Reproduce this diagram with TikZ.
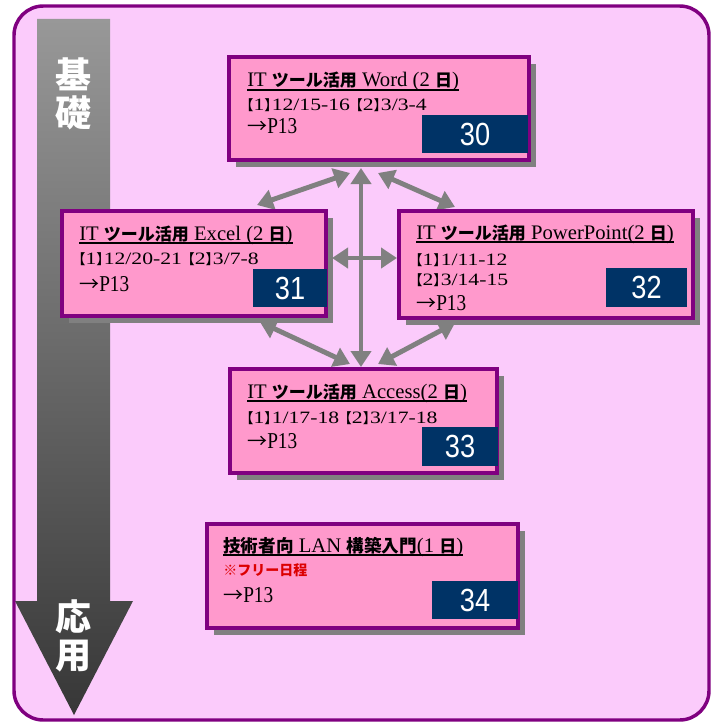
\documentclass[tikz,border=0pt]{standalone}
\usepackage{fontspec}
\setmainfont{Liberation Serif}
\newfontfamily\latn[FakeStretch=0.85]{Liberation Serif}
\newfontfamily\latw[FakeStretch=1.25]{Liberation Serif}
\newfontfamily\cjk{Noto Sans CJK JP}
\newfontfamily\numfont[FakeStretch=0.85]{Liberation Sans}
\usetikzlibrary{arrows.meta,shadows,fit,calc}
\newcommand{\J}[1]{{\cjk #1}}
\newcommand{\JB}[1]{{\cjk\bfseries\fontsize{12.75}{14}\selectfont #1}}
\newcommand{\BR}[1]{\makebox[5.5pt][r]{\cjk\fontsize{10.5}{12}\selectfont 【}#1\makebox[5.5pt][l]{\cjk\fontsize{10.5}{12}\selectfont 】}}
\newcommand{\PT}{{\cjk\fontsize{15}{17}\selectfont →}{\latn P13}}
\definecolor{outerfill}{RGB}{251,203,251}
\definecolor{boxfill}{RGB}{255,153,204}
\definecolor{purp}{RGB}{128,0,128}
\definecolor{navyc}{RGB}{0,51,102}
\definecolor{arrgray}{RGB}{128,128,128}
\definecolor{redc}{RGB}{220,0,0}
\definecolor{shtop}{RGB}{152,152,152}
\definecolor{shbot}{RGB}{55,55,55}
\begin{document}
\begin{tikzpicture}[x=0.75pt,y=-0.75pt,
  box/.style={draw=purp, line width=3.2pt, fill=boxfill, inner sep=0pt,
    drop shadow={shadow xshift=5pt, shadow yshift=-5pt, opacity=1, fill=arrgray}},
  numbox/.style={fill=navyc, inner sep=0pt},
  numtext/.style={text=white, inner sep=0pt, font=\numfont\fontsize{24}{24}\selectfont},
  tlabel/.style={anchor=base west, inner sep=0pt, font=\rmfamily\fontsize{15.5}{16}\selectfont},
  dlabel/.style={anchor=base west, inner sep=0pt, font=\latw\fontsize{13}{14}\selectfont},
  plabel/.style={anchor=base west, inner sep=0pt, font=\fontsize{17}{18}\selectfont},
  uline/.style={line width=0.9pt, black},
  conn/.style={draw=arrgray, line width=3.7pt, {Triangle[length=12pt,width=15pt]}-{Triangle[length=12pt,width=15pt]}},
  bigtext/.style={text=white, align=center, inner sep=0pt, font=\cjk\bfseries\fontsize{27}{28}\selectfont}
]
\useasboundingbox (0,0) rectangle (719,724);
% outer frame
\draw[purp, line width=2.6pt, fill=outerfill, rounded corners=22pt] (14,6) rectangle (709,720);
% big arrow
\shade[top color=shtop, bottom color=shbot] (37,19) -- (110,19) -- (110,601) -- (133,601) -- (74,715) -- (15,601) -- (37,601) -- cycle;
\node[bigtext] (kiso) at (73,94) {基\\礎};
\node[bigtext] (oyo) at (73,636) {応\\用};

% connector end points
\coordinate (wex) at (350,173); \coordinate (exw) at (257,205);
\coordinate (wpp) at (378,173); \coordinate (ppw) at (455,207);
\coordinate (wac) at (361,168); \coordinate (acw) at (361,367);
\coordinate (expp) at (332,258); \coordinate (ppex) at (397,258);
\coordinate (exac) at (260,322); \coordinate (acex) at (350,364);
\coordinate (ppac) at (455,323); \coordinate (acpp) at (378,364);
\draw[conn] (wex) -- (exw);
\draw[conn] (wpp) -- (ppw);
\draw[conn] (wac) -- (acw);
\draw[conn] (expp) -- (ppex);
\draw[conn] (exac) -- (acex);
\draw[conn] (ppac) -- (acpp);

% Word
\node[box, fit={(229,57) (529,160)}] (word) {};
\node[numbox, fit={(422,115) (528,153)}] (n30) {};
\node[numtext] (t30) at (n30.center) {30};
\node[tlabel] (wt) at (247,87) {IT \JB{ツール活用} Word (2 \JB{日})};
\draw[uline] ($(wt.base west)+(0,3)$) -- ($(wt.base east)+(0,3)$);
\node[dlabel] (wd) at (246,110) {\BR{1}12/15-16 \BR{2}3/3-4};
\node[plabel] (wp) at (247,133) {\PT};

% Excel
\node[box, fit={(62,211) (326,316)}] (excel) {};
\node[numbox, fit={(253,269) (327,307)}] (n31) {};
\node[numtext] (t31) at (n31.center) {31};
\node[tlabel] (et) at (79,240) {IT \JB{ツール活用} Excel (2 \JB{日})};
\draw[uline] ($(et.base west)+(0,3)$) -- ($(et.base east)+(0,3)$);
\node[dlabel] (ed) at (78,264) {\BR{1}12/20-21 \BR{2}3/7-8};
\node[plabel] (ep) at (79,291) {\PT};

% PowerPoint
\node[box, fit={(399,211) (693,318)}] (ppt) {};
\node[numbox, fit={(606,268) (687,307)}] (n32) {};
\node[numtext] (t32) at (n32.center) {32};
\node[tlabel] (pt) at (416,239) {IT \JB{ツール活用} PowerPoint(2 \JB{日})};
\draw[uline] ($(pt.base west)+(0,3)$) -- ($(pt.base east)+(0,3)$);
\node[dlabel] (pd1) at (415,265) {\BR{1}1/11-12};
\node[dlabel] (pd2) at (415,285) {\BR{2}3/14-15};
\node[plabel] (pp) at (416,310) {\PT};

% Access
\node[box, fit={(230,369) (497,473)}] (access) {};
\node[numbox, fit={(422,427) (498,466)}] (n33) {};
\node[numtext] (t33) at (n33.center) {33};
\node[tlabel] (at) at (247,398) {IT \JB{ツール活用} Access(2 \JB{日})};
\draw[uline] ($(at.base west)+(0,3)$) -- ($(at.base east)+(0,3)$);
\node[dlabel] (ad) at (246,423) {\BR{1}1/17-18 \BR{2}3/17-18};
\node[plabel] (ap) at (247,448) {\PT};

% LAN
\node[box, fit={(207,524) (518,628)}] (lan) {};
\node[numbox, fit={(432,581) (518,619)}] (n34) {};
\node[numtext] (t34) at (n34.center) {34};
\node[tlabel] (lt) at (223,552) {\JB{\fontsize{13.2}{14}\selectfont 技術者向} LAN \JB{\fontsize{13.2}{14}\selectfont 構築入門}(1 \JB{日})};
\draw[uline] ($(lt.base west)+(0,3)$) -- ($(lt.base east)+(0,3)$);
\node[anchor=base west, inner sep=0pt, text=redc, font=\cjk\bfseries\fontsize{10.5}{12}\selectfont] (lr) at (223,575) {※フリー日程};
\node[plabel] (lp) at (223,602) {\PT};
\end{tikzpicture}
\end{document}
